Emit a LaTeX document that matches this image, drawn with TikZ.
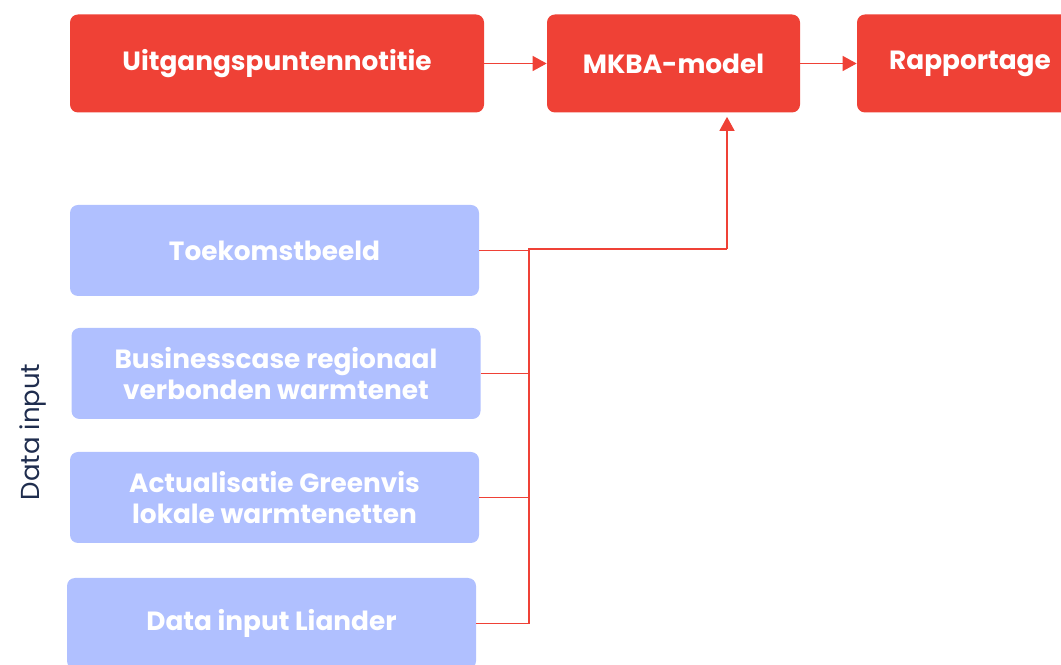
\documentclass[tikz,border=0pt]{standalone}
\usepackage{fontspec}
\setmainfont{Poppins}
\usetikzlibrary{arrows.meta}
\definecolor{mkred}{RGB}{239,65,54}
\definecolor{mkblue}{RGB}{176,192,255}
\definecolor{mknavy}{RGB}{31,45,78}
\begin{document}
\begin{tikzpicture}[
	redbox/.style={fill=mkred, rounded corners=0.16cm, text=white, font=\fontsize{15}{17.6}\selectfont\bfseries, minimum height=1.96cm, align=center},
	bluebox/.style={fill=mkblue, rounded corners=0.16cm, text=white, font=\fontsize{15}{17.6}\selectfont\bfseries, minimum width=8.18cm, minimum height=1.82cm, align=center},
	conn/.style={draw=mkred, line width=0.8pt},
	tip/.style={-{Triangle[length=0.28cm, width=0.3cm]}}
	]
	\clip (0,0) rectangle (21.22,13.28);
		\node (uit)[redbox, minimum width=8.28cm] at (5.54,12.01) {Uitgangspuntennotitie};
		\node (mkba)[redbox, minimum width=5.06cm] at (13.47,12.01) {MKBA-model};
		\node (rap)[redbox, minimum width=4.52cm] at (19.4,12.01) {Rapportage};

		\node (toek)[bluebox] at (5.49,8.27) {Toekomstbeeld};
		\node (bcase)[bluebox] at (5.52,5.81) {Businesscase regionaal\\verbonden warmtenet};
		\node (actu)[bluebox] at (5.49,3.33) {Actualisatie Greenvis\\lokale warmtenetten};
		\node (lian)[bluebox] at (5.43,0.81) {Data input Liander};

		\node (label)[rotate=90, text=mknavy, font=\fontsize{14.8}{18}\selectfont] at (0.66,4.64) {Data input};

		\coordinate (bus) at (10.58,8.30);
		\coordinate (goal) at (14.54,8.30);

		\draw [conn, tip](uit) -- (mkba);
		\draw [conn, tip](mkba) -- (rap);

		\draw [conn](toek.east) -- (toek.east -| bus);
		\draw [conn](bcase.east) -- (bcase.east -| bus);
		\draw [conn](actu.east) -- (actu.east -| bus);
		\draw [conn](lian.east) -- (lian.east -| bus) -- (bus) -- (goal);
		\draw [conn, tip, shorten >=0.08cm](goal) -- (goal |- mkba.south);
	\end{tikzpicture}
\end{document}
